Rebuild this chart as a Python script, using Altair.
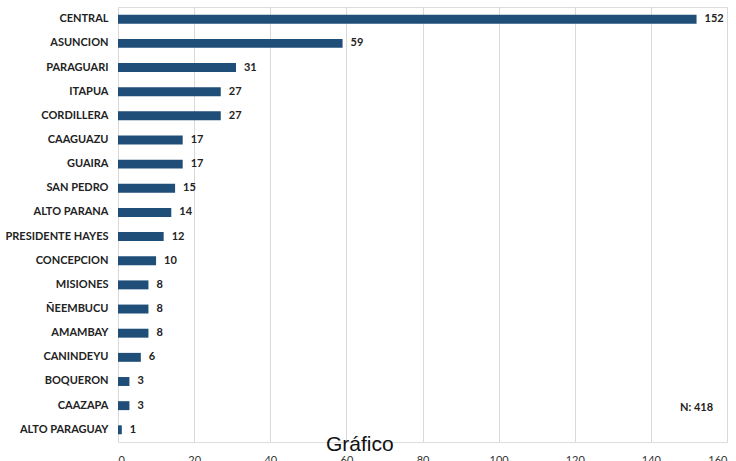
import altair as alt
import pandas as pd

departamentos = ["CENTRAL", "ASUNCION", "PARAGUARI", "ITAPUA", "CORDILLERA", "CAAGUAZU",
                 "GUAIRA", "SAN PEDRO", "ALTO PARANA", "PRESIDENTE HAYES", "CONCEPCION",
                 "MISIONES", "ÑEEMBUCU", "AMAMBAY", "CANINDEYU", "BOQUERON", "CAAZAPA",
                 "ALTO PARAGUAY"]
casos = [152, 59, 31, 27, 27, 17, 17, 15, 14, 12, 10, 8, 8, 8, 6, 3, 3, 1]
x_ticks = [0, 20, 40, 60, 80, 100, 120, 140, 160]

df = pd.DataFrame({"dep": departamentos, "n": casos})

W, H = 609, 435
FONT = "Lato"

y_enc = alt.Y("dep:N", sort=departamentos, title=None,
              scale=alt.Scale(paddingInner=0.63, paddingOuter=0.32),
              axis=alt.Axis(labelFont=FONT, labelFontWeight="bold", labelFontSize=11,
                            labelColor="#222222", ticks=False, domain=False,
                            labelPadding=10, grid=False))
x_enc = alt.X("n:Q", title=None,
              scale=alt.Scale(domain=[0, 160], nice=False),
              axis=alt.Axis(values=x_ticks, labelFont=FONT, labelFontSize=11,
                            labelColor="#333333", ticks=False, domain=False,
                            grid=True, gridColor="#D9D9D9", gridWidth=1,
                            labelPadding=12))

bars = alt.Chart(df).mark_bar(color="#1F4E79").encode(x=x_enc, y=y_enc)
labels = alt.Chart(df).mark_text(align="left", baseline="middle", dx=8,
                                 font=FONT, fontWeight="bold", fontSize=11,
                                 color="#222222").encode(
    x="n:Q", y=alt.Y("dep:N", sort=departamentos), text="n:Q")

n_text = alt.Chart(pd.DataFrame({"t": ["N: 418"]})).mark_text(
    align="left", baseline="middle", font=FONT, fontWeight="bold", fontSize=11,
    color="#222222").encode(x=alt.value(562), y=alt.value(401), text="t:N")

graf_text = alt.Chart(pd.DataFrame({"t": ["Gráfico"]})).mark_text(
    align="left", baseline="alphabetic", font="Liberation Sans", fontSize=21,
    color="#111111").encode(x=alt.value(208), y=alt.value(444), text="t:N")

chart = alt.layer(bars, labels, n_text, graf_text).properties(
    width=W, height=H,
    padding={"left": 118, "top": 7, "right": 9, "bottom": 19},
    autosize=alt.AutoSizeParams(type="none"),
).configure_view(stroke=None).configure(background="white")

chart.save("out.html", embed_options={"renderer": "svg", "actions": False})
